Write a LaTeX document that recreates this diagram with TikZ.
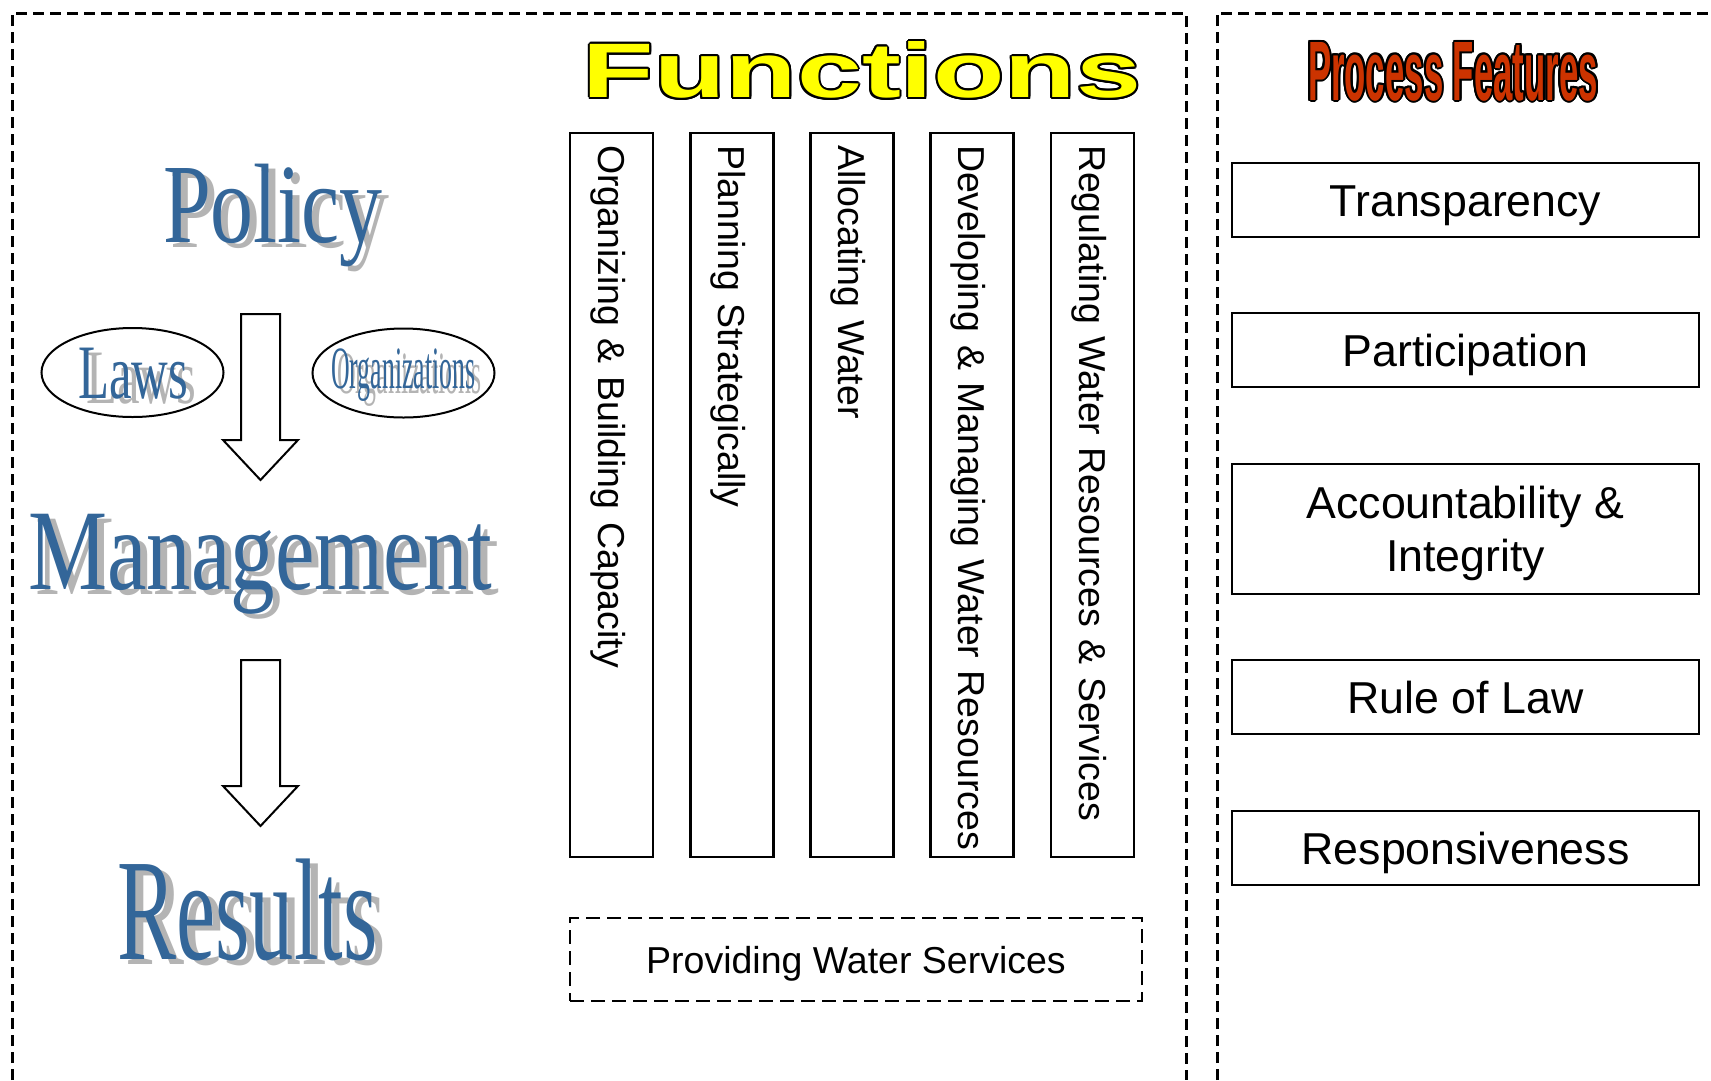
\documentclass[tikz,border=0pt]{standalone}
\usepackage{fontspec}
\setmainfont{Liberation Sans}
\newfontfamily\wordfont{Liberation Serif}
\usepackage[copies]{contour}
\usetikzlibrary{shapes.geometric}
\definecolor{wblue}{RGB}{51,102,153}
\definecolor{wgray}{RGB}{180,180,180}
\definecolor{pfred}{RGB}{204,51,0}
\definecolor{fyellow}{RGB}{255,255,0}
\newcommand\shadowword[8]{%
  \node[wshadow] (#1-shadow) at (#2+#6,#3+#7) {\scalebox{#5}[1]{\fontsize{#4}{#4}\selectfont #8}};
  \node[wfront] (#1) at (#2,#3) {\scalebox{#5}[1]{\fontsize{#4}{#4}\selectfont #8}};}
\begin{document}
\begin{tikzpicture}[x=1pt,y=-1pt,
  bigdash/.style={line width=3pt, dash pattern=on 11pt off 6pt},
  wshadow/.style={anchor=base west, inner sep=0pt, text=wgray, font=\wordfont},
  wfront/.style={anchor=base west, inner sep=0pt, text=wblue, font=\wordfont},
  ovalbox/.style={draw, ellipse, line width=2pt, minimum width=182pt, minimum height=89pt, inner sep=0pt},
  blockarrow/.style={draw, line width=2pt, fill=white, line join=miter},
  colbox/.style={draw, line width=2.2pt, rotate=-90, minimum width=724pt, minimum height=83pt,
    inner xsep=0pt, inner ysep=0pt, text width=700pt, align=left, text height=27pt, text depth=0pt,
    font=\fontsize{37.5}{40}\selectfont},
  featbox/.style={draw, line width=2.5pt, minimum width=467pt, minimum height=74pt, inner sep=0pt,
    align=center, text height=32pt, text depth=0pt, font=\fontsize{44.7}{53}\selectfont},
  provbox/.style={draw, line width=2.2pt, dash pattern=on 14pt off 7pt, minimum width=572pt, minimum height=83pt,
    inner sep=0pt, text height=27pt, text depth=0pt, font=\fontsize{37.5}{40}\selectfont},
  titlenode/.style={inner sep=0pt}
]
\fill[white] (0,0) rectangle (1711,1080);
\useasboundingbox (0,0) rectangle (1711,1080);

% dashed frames
\draw[bigdash] (12,1080) -- (12,13) -- (1186,13) -- (1186,1080);
\draw[bigdash] (1217,1080) -- (1217,13) -- (1711,13);

% titles
\contourlength{2pt}
\node[titlenode] (functitle) at (862,71) {\color{fyellow}\contour{black}{\resizebox{558pt}{56pt}{\bfseries Functions}}};
\node[titlenode] (pftitle) at (1453,72.5) {\color{pfred}\contour{black}{\resizebox{290pt}{58pt}{\bfseries Process Features}}};

% left column
\node[ovalbox] (lawsoval) at (132.5,372.5) {};
\node[ovalbox] (orgsoval) at (403.5,373) {};
\shadowword{policy}{163}{242}{113}{0.76}{7}{5}{Policy}
\shadowword{management}{28}{589}{115}{0.773}{7}{5}{Management}
\shadowword{results}{117}{959}{145}{0.61}{8}{5}{Results}
\shadowword{laws}{78}{398}{77}{0.66}{8}{5}{Laws}
\shadowword{orgs}{331}{388}{60}{0.43}{6}{5}{Organizations}

\draw[blockarrow] (241,314) -- (280,314) -- (280,440) -- (298,440) -- (260.5,480) -- (223,440) -- (241,440) -- cycle;
\draw[blockarrow] (241,660) -- (280,660) -- (280,786) -- (298,786) -- (260.5,826) -- (223,786) -- (241,786) -- cycle;

% functions columns
\node[colbox] (fn1) at (611.5,495) {\mbox{Organizing \& Building Capacity}};
\node[colbox] (fn2) at (732,495) {\mbox{Planning Strategically}};
\node[colbox] (fn3) at (852,495) {\mbox{Allocating Water}};
\node[colbox] (fn4) at (972,495) {\mbox{Developing \& Managing Water Resources}};
\node[colbox] (fn5) at (1092.5,495) {\mbox{Regulating Water Resources \& Services}};

\node[provbox] (prov) at (856,959.5) {Providing Water Services};

% process features
\node[featbox] (transp) at (1465.5,200) {Transparency};
\node[featbox] (partic) at (1465.5,350) {Participation};
\node[featbox, minimum height=130pt, text height=85pt, text depth=0pt] (account) at (1465.5,529) {Accountability \&\\Integrity};
\node[featbox] (rule) at (1465.5,697) {Rule of Law};
\node[featbox] (respons) at (1465.5,848) {Responsiveness};
\end{tikzpicture}
\end{document}
